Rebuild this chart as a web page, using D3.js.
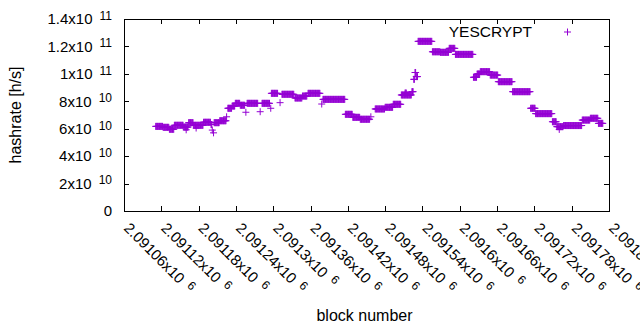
<!DOCTYPE html>
<html>
<head>
<meta charset="utf-8">
<script src="https://cdn.jsdelivr.net/npm/d3@7"></script>
<style>
  body { margin: 0; background: #fff; }
  text { font-family: "Liberation Sans", Arial, sans-serif; fill: #000; }
</style>
</head>
<body>
<div id="chart"></div>
<script>
// hashrate estimate is constant across runs of blocks: [first block, last block, h/s]
var runStart = [2091111, 2091123, 2091133, 2091141, 2091156, 2091160, 2091164, 2091172, 2091176, 2091188, 2091200, 2091202, 2091204,
    2091205, 2091214, 2091225, 2091227, 2091234, 2091239, 2091247, 2091256, 2091258, 2091279, 2091282, 2091296,
    2091297, 2091311, 2091314, 2091335, 2091347, 2091356, 2091378, 2091380, 2091416, 2091428, 2091440, 2091457,
    2091464, 2091480, 2091493, 2091506, 2091512, 2091523, 2091526, 2091528, 2091530, 2091533, 2091556, 2091569,
    2091583, 2091593, 2091622, 2091628, 2091633, 2091649, 2091662, 2091685, 2091714, 2091722, 2091749, 2091756,
    2091760, 2091767, 2091797, 2091810, 2091823];
var runEnd = [2091122, 2091132, 2091140, 2091155, 2091163, 2091160, 2091171, 2091187, 2091176, 2091199, 2091201, 2091202, 2091204,
    2091213, 2091224, 2091225, 2091233, 2091238, 2091246, 2091254, 2091256, 2091275, 2091279, 2091294, 2091296,
    2091307, 2091311, 2091333, 2091346, 2091354, 2091375, 2091378, 2091415, 2091427, 2091439, 2091455, 2091457,
    2091479, 2091492, 2091505, 2091522, 2091514, 2091525, 2091527, 2091529, 2091532, 2091555, 2091568, 2091582,
    2091592, 2091621, 2091627, 2091632, 2091648, 2091661, 2091684, 2091713, 2091721, 2091748, 2091755, 2091766,
    2091760, 2091796, 2091809, 2091822, 2091830];
var runRate = [6.17e10, 6.10e10, 5.96e10, 6.25e10, 6.12e10, 5.92e10, 6.44e10, 6.25e10, 6.05e10, 6.47e10, 6.30e10, 5.90e10, 5.70e10,
    6.44e10, 6.58e10, 6.87e10, 7.49e10, 7.65e10, 7.85e10, 7.71e10, 7.20e10, 7.85e10, 7.24e10, 7.85e10, 7.49e10,
    8.58e10, 7.90e10, 8.51e10, 8.24e10, 8.38e10, 8.58e10, 7.80e10, 8.14e10, 7.05e10, 6.83e10, 6.69e10, 6.87e10,
    7.44e10, 7.56e10, 7.78e10, 8.46e10, 8.60e10, 8.70e10, 9.60e10, 10.1e10, 9.80e10, 12.37e10, 11.61e10, 11.57e10,
    11.86e10, 11.42e10, 9.75e10, 9.99e10, 10.16e10, 9.91e10, 9.43e10, 8.70e10, 7.49e10, 7.10e10, 6.51e10, 6.15e10,
    5.95e10, 6.23e10, 6.63e10, 6.76e10, 6.39e10];

var seriesName = 'YESCRYPT';
var xTicks = [2091060, 2091120, 2091180, 2091240, 2091300, 2091360, 2091420, 2091480, 2091540,
    2091600, 2091660, 2091720, 2091780, 2091840];
var yTicks = [0, 2e10, 4e10, 6e10, 8e10, 1e11, 1.2e11, 1.4e11];

var width = 640, height = 330;
var margin = { top: 19, right: 31, bottom: 119, left: 124 };
var colour = '#9400d3';
var plus = 3.5;

var x = d3.scaleLinear().domain([2091060, 2091840]).range([margin.left, width - margin.right]);
var y = d3.scaleLinear().domain([0, 1.4e11]).range([height - margin.bottom, margin.top]);

// one point per block
var points = [];
runStart.forEach(function(s, i) {
    for (var b = s; b <= runEnd[i]; b++) points.push({ block: b, rate: runRate[i] });
});

var svg = d3.select('#chart').append('svg')
    .attr('width', width)
    .attr('height', height);

function sci(v) {
    if (v === 0) return { m: '0', e: null };
    var e = Math.floor(Math.log10(v) + 1e-9);
    var m = +(v / Math.pow(10, e)).toFixed(6);
    return { m: m + 'x10', e: e };
}

// axes with inward ticks on all four sides
var x0 = margin.left, x1 = width - margin.right, y0 = height - margin.bottom, y1 = margin.top;
var axisG = svg.append('g').attr('stroke', '#000').attr('stroke-width', 1).attr('shape-rendering', 'crispEdges');

axisG.selectAll('.yt').data(yTicks).enter().append('path')
    .attr('d', function(d) {
        var yy = Math.round(y(d)) + 0.5;
        return `M${x0},${yy}h5M${x1},${yy}h-5`;
    });
axisG.selectAll('.xt').data(xTicks).enter().append('path')
    .attr('d', function(d) {
        var xx = Math.round(x(d)) + 0.5;
        return `M${xx},${y0}v-5M${xx},${y1}v5`;
    });
axisG.append('rect')
    .attr('x', x0 + 0.5).attr('y', y1 + 0.5)
    .attr('width', x1 - x0).attr('height', y0 - y1)
    .attr('fill', 'none');

// y tick labels
var yLab = svg.append('g').selectAll('text').data(yTicks).enter().append('text')
    .attr('x', 112)
    .attr('y', function(d) { return y(d) + 5.3; })
    .attr('text-anchor', 'end')
    .style('font-size', '15px');
yLab.append('tspan').text(function(d) { return sci(d).m; });
yLab.filter(function(d) { return d !== 0; }).append('tspan')
    .attr('dx', 7).attr('dy', -4.5)
    .style('font-size', '12px')
    .text(function(d) { return sci(d).e; });

// x tick labels, rotated
var xLab = svg.append('g').selectAll('text').data(xTicks).enter().append('text')
    .attr('transform', function(d) { return `translate(${x(d) - 1},229) rotate(45)`; })
    .style('font-size', '15px');
xLab.append('tspan').text(function(d) { return sci(d).m; });
xLab.append('tspan')
    .attr('dx', 7).attr('dy', -4.5)
    .style('font-size', '12px')
    .text(function(d) { return sci(d).e; });

// axis titles
svg.append('text')
    .attr('transform', `translate(21,${(y0 + y1) / 2}) rotate(-90)`)
    .attr('text-anchor', 'middle')
    .style('font-size', '16px')
    .text('hashrate [h/s]');
svg.append('text')
    .attr('x', (x0 + x1) / 2 - 2).attr('y', 321)
    .attr('text-anchor', 'middle')
    .style('font-size', '16px')
    .text('block number');

// points
function plusPath(px, py) {
    return `M${px - plus},${py}H${px + plus}M${px},${py - plus}V${py + plus}`;
}
svg.append('g').selectAll('path').data(points).enter().append('path')
    .attr('d', function(d) { return plusPath(x(d.block), y(d.rate)); })
    .attr('stroke', colour)
    .attr('stroke-width', 1)
    .attr('fill', 'none');

// legend
svg.append('text')
    .attr('x', 532).attr('y', 37)
    .attr('text-anchor', 'end')
    .style('font-size', '15.5px')
    .text(seriesName);
svg.append('path')
    .attr('d', plusPath(567.5, 32))
    .attr('stroke', colour)
    .attr('fill', 'none');
</script>
</body>
</html>
